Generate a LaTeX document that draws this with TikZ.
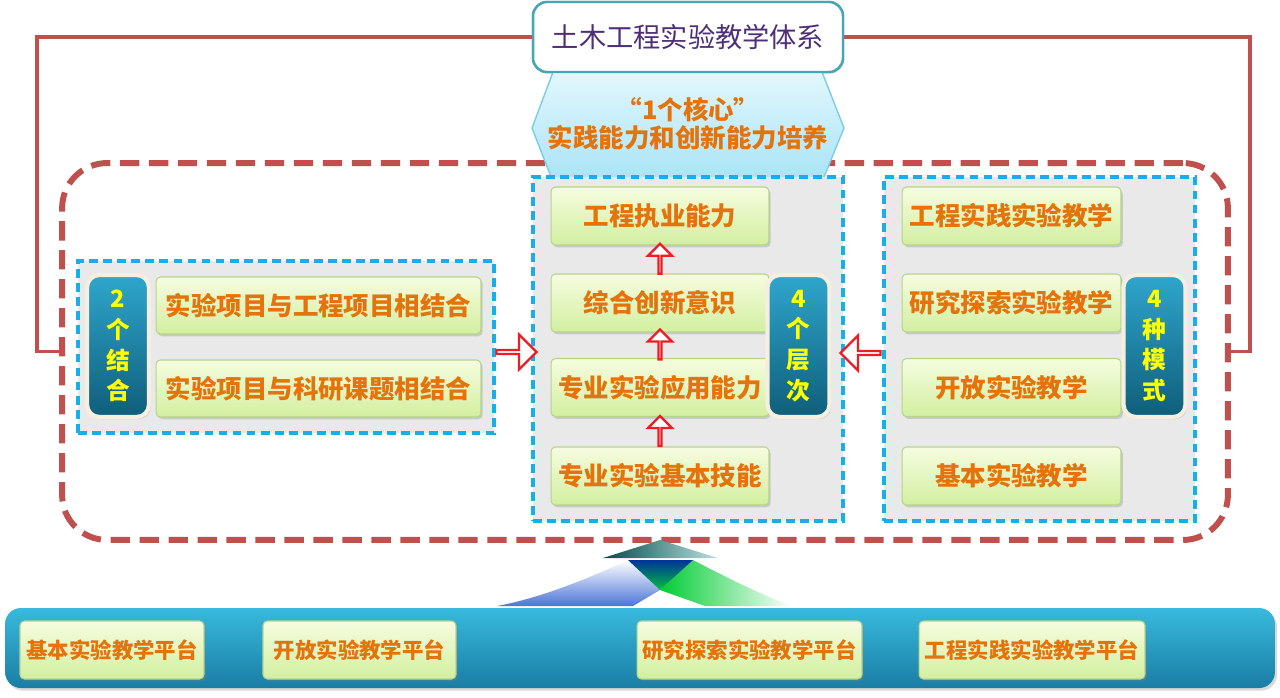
\documentclass[tikz,border=0pt]{standalone}
\usepackage{fontspec}
\newfontfamily\cjk{Noto Sans CJK SC}
\usetikzlibrary{shapes.arrows,shadows,calc}
\definecolor{redline}{HTML}{C0504D}
\definecolor{pblue}{HTML}{1AAEE8}
\definecolor{pfill}{HTML}{E9E9E9}
\definecolor{gtop}{HTML}{F6FCDF}
\definecolor{gbot}{HTML}{D2EFA0}
\definecolor{gline}{HTML}{B5D48C}
\definecolor{otext}{HTML}{E5730C}
\definecolor{btop}{HTML}{2FA6CC}
\definecolor{bbot}{HTML}{0F5E7A}
\definecolor{cream}{HTML}{F4EFDF}
\definecolor{byel}{HTML}{FFFF00}
\definecolor{ared}{HTML}{EE1C24}
\definecolor{tborder}{HTML}{47A6B5}
\definecolor{ttext}{HTML}{4E2E78}
\definecolor{hextop}{HTML}{E2F7FD}
\definecolor{hexbot}{HTML}{A9E3F6}
\definecolor{hexline}{HTML}{7CCDE4}
\definecolor{bartop}{HTML}{38B9DD}
\definecolor{barbot}{HTML}{1A7DA4}
\tikzset{
  gbox/.style={draw=gline, line width=0.6pt, rounded corners=2.5pt, top color=gtop, bottom color=gbot,
    drop shadow={shadow xshift=1pt, shadow yshift=-1.3pt, opacity=0.3}, text=otext,
    font=\cjk\bfseries\fontsize{14.5}{17}\selectfont, minimum height=1.16cm, inner sep=0pt},
  pbox/.style={gbox, font=\cjk\bfseries\fontsize{12.2}{15}\selectfont},
  badge/.style={draw=cream, line width=2.4pt, rounded corners=7pt, top color=btop, bottom color=bbot,
    text=byel, font=\cjk\bfseries\fontsize{13.5}{17.5}\selectfont, align=center,
    minimum width=1.24cm, minimum height=2.84cm, inner sep=0pt,
    drop shadow={shadow xshift=1pt, shadow yshift=-1.2pt, opacity=0.35}},
  panel/.style={draw=pblue, line width=1.8pt, dash pattern=on 5pt off 3pt, fill=pfill, inner sep=0pt},
  upar/.style={single arrow, draw=ared, line width=1.3pt, fill=white, inner sep=0pt,
    minimum height=0.6cm, minimum width=0.48cm, single arrow head extend=0.16cm, shape border rotate=90},
  sidear/.style={single arrow, draw=ared, line width=1.3pt, fill=white, inner sep=0pt,
    minimum height=0.8cm, minimum width=0.7cm, single arrow head extend=0.17cm},
  conn/.style={draw=redline, line width=1.8pt},
}
\begin{document}
\begin{tikzpicture}[x=0.02cm,y=-0.02cm]
\useasboundingbox (0,0) rectangle (1280,697);

% big dashed frame
\node[draw=redline, line width=3.4pt, dash pattern=on 11pt off 5.5pt, rounded corners=0.9cm,
  minimum width=23.32cm, minimum height=7.54cm, inner sep=0pt] (big) at (645,351.5) {};

% title
\node[draw=tborder, line width=1.4pt, rounded corners=8pt, fill=white, minimum width=6.2cm, minimum height=1.4cm,
  text=ttext, font=\cjk\fontsize{15.5}{18}\selectfont, inner sep=0pt,
  drop shadow={shadow xshift=0.8pt, shadow yshift=-1pt, opacity=0.2}] (title) at (688,37) {土木工程实验教学体系};

% connectors from title to frame
\coordinate (lc) at (37,100);
\coordinate (rc) at (1250,100);
\draw[conn] (title.west) -| (lc) |- (big.west);
\draw[conn] (title.east) -| (rc) |- (big.east);

% hexagon
\path[draw=hexline, line width=0.8pt, top color=hextop, bottom color=hexbot]
  (553,72) -- (822,72) -- (844,128) -- (822,182) -- (553,182) -- (532,128) -- cycle;
\node[text=otext, font=\cjk\bfseries\fontsize{14.5}{16}\selectfont, align=center] (core) at (688,124)
  {“1个核心”\\实践能力和创新能力培养};
\node[draw=tborder, line width=1.4pt, rounded corners=8pt, fill=white, minimum width=6.2cm, minimum height=1.4cm,
  text=ttext, font=\cjk\fontsize{15.5}{18}\selectfont, inner sep=0pt] at (688,37) {土木工程实验教学体系};

% panels
\node[panel, minimum width=8.32cm, minimum height=3.44cm] (lp) at (286,347) {};
\node[panel, minimum width=6.2cm, minimum height=6.88cm] (mp) at (688,349) {};
\node[panel, minimum width=6.22cm, minimum height=6.88cm] (rp) at (1039.5,349) {};

% left panel
\node[badge] (b1) at (118,346) {2\\个\\结\\合};
\node[gbox, minimum width=6.5cm, minimum height=1.14cm] (l1) at (318.5,305.5) {实验项目与工程项目相结合};
\node[gbox, minimum width=6.5cm, minimum height=1.14cm] (l2) at (318.5,388.5) {实验项目与科研课题相结合};

% middle panel
\node[gbox, minimum width=4.36cm] (m1) at (660,216) {工程执业能力};
\node[gbox, minimum width=4.36cm] (m2) at (660,303) {综合创新意识};
\node[gbox, minimum width=4.36cm] (m3) at (660,387.5) {专业实验应用能力};
\node[gbox, minimum width=4.36cm] (m4) at (660,476) {专业实验基本技能};
\node[badge] (b2) at (798.5,346) {4\\个\\层\\次};
\node[upar] (u1) at ($(m1.south)!0.5!(m2.north)$) {};
\node[upar] (u2) at ($(m2.south)!0.5!(m3.north)$) {};
\node[upar] (u3) at ($(m3.south)!0.5!(m4.north)$) {};

% right panel
\node[gbox, minimum width=4.38cm] (r1) at (1011.5,216) {工程实践实验教学};
\node[gbox, minimum width=4.38cm] (r2) at (1011.5,303) {研究探索实验教学};
\node[gbox, minimum width=4.38cm] (r3) at (1011.5,387.5) {开放实验教学};
\node[gbox, minimum width=4.38cm] (r4) at (1011.5,476) {基本实验教学};
\node[badge] (b3) at (1154.5,346) {4\\种\\模\\式};

% side arrows
\node[sidear] (sa1) at ($(lp.east)!0.5!(mp.west)+(2,4)$) {};
\node[sidear, shape border rotate=180] (sa2) at ($(mp.east)!0.5!(rp.west)+(-2,4)$) {};

% bottom decoration
\path[top color=white, bottom color=blue!55!teal!70!white, draw=none]
  (628,560) .. controls (575,585) and (530,600) .. (497,606) -- (633,606) -- (660,590) -- cycle;
\path[left color=green!60!teal, right color=white, draw=none]
  (693,560) .. controls (735,582) and (765,596) .. (792,606) -- (705,606) -- (660,590) -- cycle;
\path[top color=blue!50!teal!80!black, bottom color=green!50!teal, draw=none]
  (628,560) -- (693,560) -- (660,590) -- cycle;
\path[left color=teal!60!black, right color=teal!25!white, draw=none]
  (603,558) -- (660,540) -- (718,558) -- cycle;

% bottom bar
\node[rounded corners=9pt, top color=bartop, bottom color=barbot, minimum width=25.4cm, minimum height=1.6cm,
  inner sep=0pt, drop shadow={shadow xshift=1.2pt, shadow yshift=-1.5pt, opacity=0.3}] (bar) at (640,648) {};
\node[pbox, minimum width=3.68cm] (p1) at (112,650) {基本实验教学平台};
\node[pbox, minimum width=3.86cm] (p2) at (359.5,650) {开放实验教学平台};
\node[pbox, minimum width=4.5cm] (p3) at (749.5,650) {研究探索实验教学平台};
\node[pbox, minimum width=4.52cm] (p4) at (1032,650) {工程实践实验教学平台};
\end{tikzpicture}
\end{document}
